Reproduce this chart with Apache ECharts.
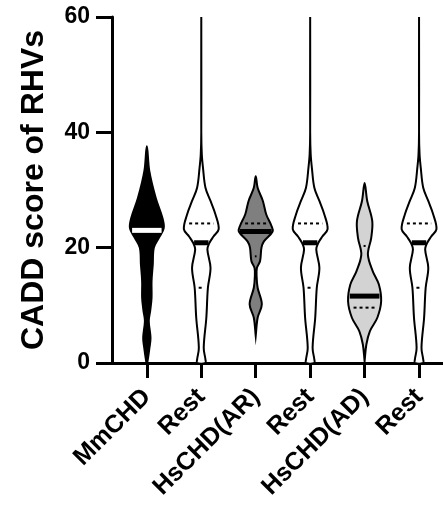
<!DOCTYPE html>
<html>
<head>
<meta charset="utf-8">
<script src="https://cdn.jsdelivr.net/npm/echarts@6/dist/echarts.min.js"></script>
<style>
  html, body { margin: 0; padding: 0; background: #fff; }
  #chart { width: 443px; height: 506px; }
</style>
</head>
<body>
<div id="chart"></div>
<script>
const categories = ['MmCHD', 'Rest', 'HsCHD(AR)', 'Rest', 'HsCHD(AD)', 'Rest'];
const positions = [1, 2, 3, 4, 5, 6];
const yTicks = [0, 20, 40, 60];

// violin outlines: [CADD score, relative half width]
const mmchdShape = [[0, 0.02], [2.65, 0.15], [4.4, 0.21], [7.3, 0.11], [9.0, 0.19], [11.3, 0.27], [14.2, 0.27], [17.1, 0.34], [20.0, 0.40], [21.7, 0.69], [23.4, 0.97], [25.2, 0.89], [28.6, 0.51], [33.3, 0.14], [37.6, 0]];
const rest1Shape = [[0, 0.24], [0.6, 0.24], [2.65, 0.14], [7.85, 0.29], [13.05, 0.38], [16.5, 0.53], [19.7, 0.35], [20.85, 0.47], [21.9, 0.69], [23.2, 1.0], [25.8, 0.81], [28.1, 0.53], [30.4, 0.24], [33.8, 0.1], [36.2, 0.03], [40, 0], [60, 0]];
const arShape = [[4.7, 0], [7.85, 0.11], [10.2, 0.35], [13.05, 0.11], [15.1, 0.05], [16.5, 0.07], [17.7, 0.25], [20.0, 0.33], [21.1, 0.47], [22.8, 0.97], [23.8, 0.9], [25.8, 0.6], [28.1, 0.41], [30.4, 0.11], [32.4, 0]];
const rest2Shape = [[0, 0.24], [0.6, 0.24], [2.65, 0.14], [7.85, 0.29], [13.05, 0.38], [16.5, 0.53], [19.7, 0.35], [20.85, 0.47], [21.9, 0.69], [23.2, 1.0], [25.8, 0.81], [28.1, 0.53], [30.4, 0.24], [33.8, 0.1], [36.2, 0.03], [40, 0], [60, 0]];
const adShape = [[0.3, 0], [3.2, 0.1], [5.5, 0.3], [7.85, 0.73], [10.7, 0.95], [13.6, 0.82], [15.9, 0.47], [18.8, 0.19], [21.7, 0.38], [24.6, 0.44], [28.1, 0.15], [31.2, 0]];
const rest3Shape = [[0, 0.24], [0.6, 0.24], [2.65, 0.14], [7.85, 0.29], [13.05, 0.38], [16.5, 0.53], [19.7, 0.35], [20.85, 0.47], [21.9, 0.69], [23.2, 1.0], [25.8, 0.81], [28.1, 0.53], [30.4, 0.24], [33.8, 0.1], [36.2, 0.03], [40, 0], [60, 0]];

const medians = [23.0, 20.85, 22.8, 20.85, 11.6, 20.85];
const quart1 = [16.5, 13.05, 18.5, 13.05, 9.6, 13.05];
const quart3 = [25.5, 24.2, 24.2, 24.2, 20.3, 24.2];

const shapes = [mmchdShape, rest1Shape, arShape, rest2Shape, adShape, rest3Shape];
const fills = ['#000000', '#ffffff', '#7f7f7f', '#ffffff', '#d3d3d3', '#ffffff'];
const medianColors = ['#ffffff', '#000000', '#000000', '#000000', '#000000', '#000000'];
const HALF = 0.32; // max half width in x units
const FONT = 'Liberation Sans, Arial, sans-serif';

// half width at a score, straight line between read points
function widthAt(shape, v) {
  for (let k = 1; k < shape.length; k++) {
    if (v <= shape[k][0]) {
      const [v0, w0] = shape[k - 1];
      const [v1, w1] = shape[k];
      return w0 + (w1 - w0) * (v - v0) / (v1 - v0);
    }
  }
  return 0;
}

function renderViolin(params, api) {
  const i = params.dataIndex;
  const xc = api.value(0);
  const shape = shapes[i];
  const left = shape.map(([v, w]) => api.coord([xc - w * HALF, v]));
  const right = shape.map(([v, w]) => api.coord([xc + w * HALF, v])).reverse();
  if (shape[shape.length - 1][1] === 0) right.shift();
  const children = [{
    type: 'polygon',
    shape: { points: left.concat(right), smooth: 0.35 },
    style: { fill: fills[i], stroke: '#000', lineWidth: 2 }
  }];
  [quart1[i], quart3[i]].forEach((q) => {
    const w = widthAt(shape, q) * HALF;
    const a = api.coord([xc - w, q]);
    const b = api.coord([xc + w, q]);
    children.push({
      type: 'line',
      shape: { x1: a[0] + 4, y1: a[1], x2: b[0] - 4, y2: b[1] },
      style: { stroke: '#000', lineWidth: 2, lineDash: [3, 3] }
    });
  });
  const wm = widthAt(shape, medians[i]) * HALF;
  const m0 = api.coord([xc - wm, medians[i]]);
  const m1 = api.coord([xc + wm, medians[i]]);
  children.push({
    type: 'line',
    shape: { x1: m0[0] + 1, y1: m0[1], x2: m1[0] - 1, y2: m1[1] },
    style: { stroke: medianColors[i], lineWidth: 5 }
  });
  return { type: 'group', children };
}

const chart = echarts.init(document.getElementById('chart'));
chart.setOption({
  animation: false,
  grid: { left: 112, right: 0, top: 17, bottom: 143, containLabel: false },
  xAxis: {
    type: 'value',
    min: 0.36,
    max: 6.44,
    splitLine: { show: false },
    axisLine: { onZero: false, lineStyle: { color: '#000', width: 3 } },
    axisTick: { customValues: positions, length: 15, lineStyle: { color: '#000', width: 3 } },
    axisLabel: {
      customValues: positions,
      formatter: (v) => categories[Math.round(v) - 1],
      rotate: 45,
      margin: 30,
      color: '#000',
      fontFamily: FONT,
      fontWeight: 'bold',
      fontSize: 25
    }
  },
  yAxis: {
    type: 'value',
    min: 0,
    max: 60,
    interval: 20,
    name: 'CADD score of RHVs',
    nameLocation: 'middle',
    nameGap: 62,
    nameTextStyle: { color: '#000', fontFamily: FONT, fontWeight: 'bold', fontSize: 32 },
    splitLine: { show: false },
    axisLine: { show: true, onZero: false, lineStyle: { color: '#000', width: 3 } },
    axisTick: { show: true, customValues: yTicks, length: 16, lineStyle: { color: '#000', width: 3 } },
    axisLabel: {
      customValues: yTicks,
      margin: 22,
      color: '#000',
      fontFamily: FONT,
      fontWeight: 'bold',
      fontSize: 23
    }
  },
  series: [{
    type: 'custom',
    renderItem: renderViolin,
    clip: false,
    z: 1,
    data: positions.map((p, i) => [p, medians[i]])
  }]
});
</script>
</body>
</html>
